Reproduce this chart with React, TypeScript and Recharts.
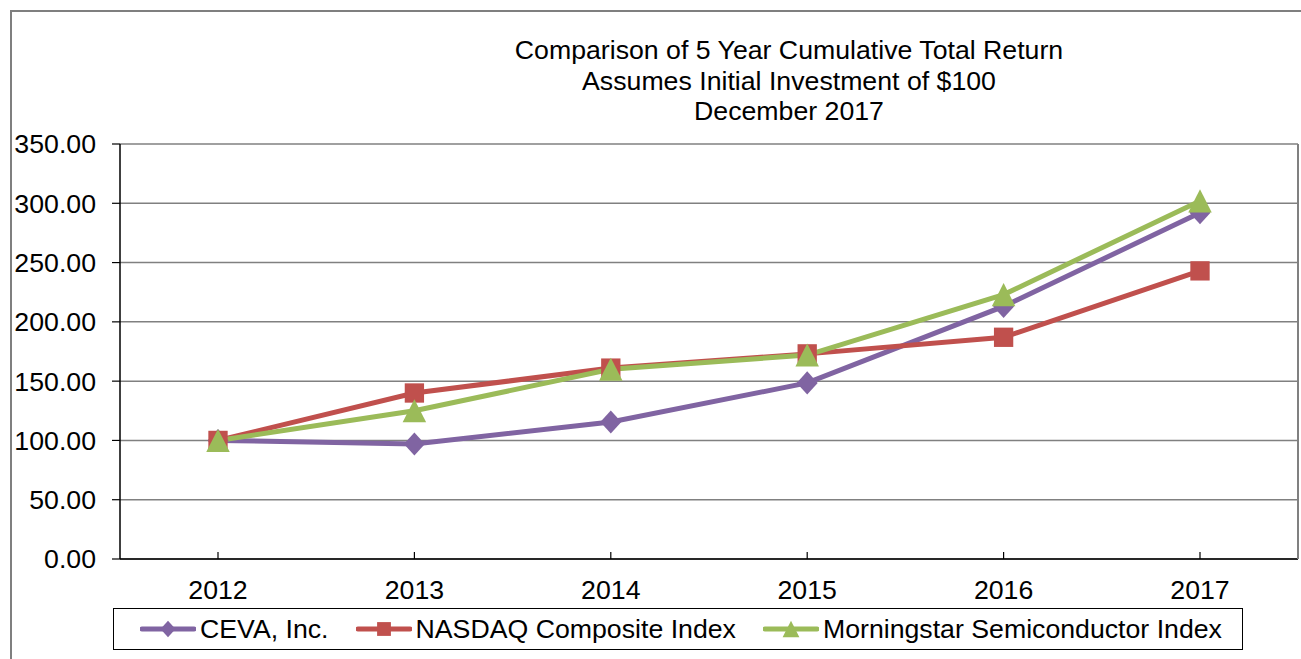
import React from "react";
import { LineChart, Line, XAxis, YAxis, CartesianGrid, Legend } from "recharts";

const years = ["2012", "2013", "2014", "2015", "2016", "2017"];
const ceva = [100, 97, 115.5, 148.5, 213, 292];
const nasdaq = [100, 140, 161, 173, 187, 243];
const morningstar = [100, 125, 160, 172, 223, 302];
const yTicks = [0, 50, 100, 150, 200, 250, 300, 350];
const titleLines = [
  "Comparison of 5 Year Cumulative Total Return",
  "Assumes Initial Investment of $100",
  "December 2017",
];

const seriesDefs = [
  { key: "ceva", name: "CEVA, Inc.", color: "#8064A2", shape: "diamond" },
  { key: "nasdaq", name: "NASDAQ Composite Index", color: "#C0504D", shape: "square" },
  { key: "morningstar", name: "Morningstar Semiconductor Index", color: "#9BBB59", shape: "triangle" },
];

const data = years.map((y, i) => ({
  year: y,
  ceva: ceva[i],
  nasdaq: nasdaq[i],
  morningstar: morningstar[i],
}));

const FONT = "'Liberation Sans', Arial, sans-serif";
const FS = 26.7;

function Marker({ shape, cx, cy, color, s }: any) {
  if (cx == null || cy == null) return null;
  if (shape === "diamond") {
    const h = s * 0.55;
    const w = s * 0.5;
    return <path d={`M${cx},${cy - h}L${cx + w},${cy}L${cx},${cy + h}L${cx - w},${cy}Z`} fill={color} />;
  }
  if (shape === "square") {
    const h = s * 0.46;
    return <rect x={cx - h} y={cy - h} width={2 * h} height={2 * h} fill={color} />;
  }
  const w = s * 0.56;
  const h = s * 0.55;
  return <path d={`M${cx},${cy - h}L${cx + w},${cy + h}L${cx - w},${cy + h}Z`} fill={color} />;
}

function makeDot(shape: string, color: string) {
  return (props: any) => (
    <Marker key={`${shape}-${props.index}`} shape={shape} cx={props.cx} cy={props.cy} color={color} s={21} />
  );
}

function XTick(props: any) {
  const { x, y, payload } = props;
  const axisY = y - 21;
  return (
    <g>
      <line x1={x} x2={x} y1={axisY} y2={axisY - 7} stroke="#000" strokeWidth={1.2} />
      <text x={x} y={y} dy="0.71em" textAnchor="middle" fontFamily={FONT} fontSize={FS} fill="#000">
        {payload.value}
      </text>
    </g>
  );
}

function LegendContent() {
  return (
    <div
      style={{
        boxSizing: "border-box",
        height: 42,
        border: "1.5px solid #000",
        display: "flex",
        alignItems: "center",
        paddingLeft: 26,
        fontFamily: FONT,
        fontSize: FS,
        color: "#000",
        whiteSpace: "nowrap",
      }}
    >
      {seriesDefs.map((s, i) => (
        <div key={s.key} style={{ display: "flex", alignItems: "center", marginLeft: i === 0 ? 0 : 27 }}>
          <svg width={56} height={20} style={{ display: "block" }}>
            <line x1={2} x2={54} y1={10} y2={10} stroke={s.color} strokeWidth={5} strokeLinecap="round" />
            <Marker shape={s.shape} cx={28} cy={10} color={s.color} s={15} />
          </svg>
          <span style={{ marginLeft: 4, lineHeight: "42px" }}>{s.name}</span>
        </div>
      ))}
    </div>
  );
}

export default function App() {
  return (
    <div style={{ position: "absolute", left: 0, top: 0, width: 1301, height: 659, background: "#fff" }}>
      <div
        style={{
          position: "absolute",
          left: 10,
          top: 10,
          width: 1400,
          height: 800,
          borderLeft: "2px solid #7f7f7f",
          borderTop: "2px solid #7f7f7f",
        }}
      />
      <svg style={{ position: "absolute", left: 0, top: 0 }} width={1301} height={140}>
        {titleLines.map((t, i) => (
          <text key={i} x={789} y={59 + i * 30.5} textAnchor="middle" fontFamily={FONT} fontSize={FS} fill="#000">
            {t}
          </text>
        ))}
      </svg>
      <div style={{ position: "absolute", left: 0, top: 0 }}>
        <LineChart width={1301} height={659} data={data} margin={{ top: 144, right: 0, bottom: 9, left: 0 }}>
          <CartesianGrid vertical={false} stroke="#808080" strokeWidth={1.5} yAxisId="left" />
          <XAxis
            dataKey="year"
            tick={<XTick />}
            tickLine={false}
            tickSize={8}
            tickMargin={13}
            height={49}
            padding={{ left: 98, right: 98 }}
            axisLine={{ stroke: "#000", strokeWidth: 1.5 }}
            interval={0}
          />
          <YAxis
            yAxisId="left"
            domain={[0, 350]}
            ticks={yTicks}
            width={120}
            tickSize={8}
            tickMargin={16}
            tickFormatter={(v: number) => v.toFixed(2)}
            tick={{ fontFamily: FONT, fontSize: FS, fill: "#000" }}
            axisLine={{ stroke: "#000", strokeWidth: 1.5 }}
            tickLine={{ stroke: "#000", strokeWidth: 1.2 }}
          />
          <YAxis
            yAxisId="right"
            orientation="right"
            domain={[0, 350]}
            ticks={yTicks}
            width={3}
            tick={false}
            tickLine={false}
            axisLine={{ stroke: "#808080", strokeWidth: 2 }}
          />
          <Legend
            verticalAlign="bottom"
            content={<LegendContent />}
            wrapperStyle={{ left: 113, width: 1130, bottom: 9 }}
          />
          {seriesDefs.map((s) => (
            <Line
              key={s.key}
              yAxisId="left"
              type="linear"
              dataKey={s.key}
              name={s.name}
              stroke={s.color}
              strokeWidth={5}
              dot={makeDot(s.shape, s.color)}
              activeDot={false}
              isAnimationActive={false}
            />
          ))}
        </LineChart>
      </div>
    </div>
  );
}
